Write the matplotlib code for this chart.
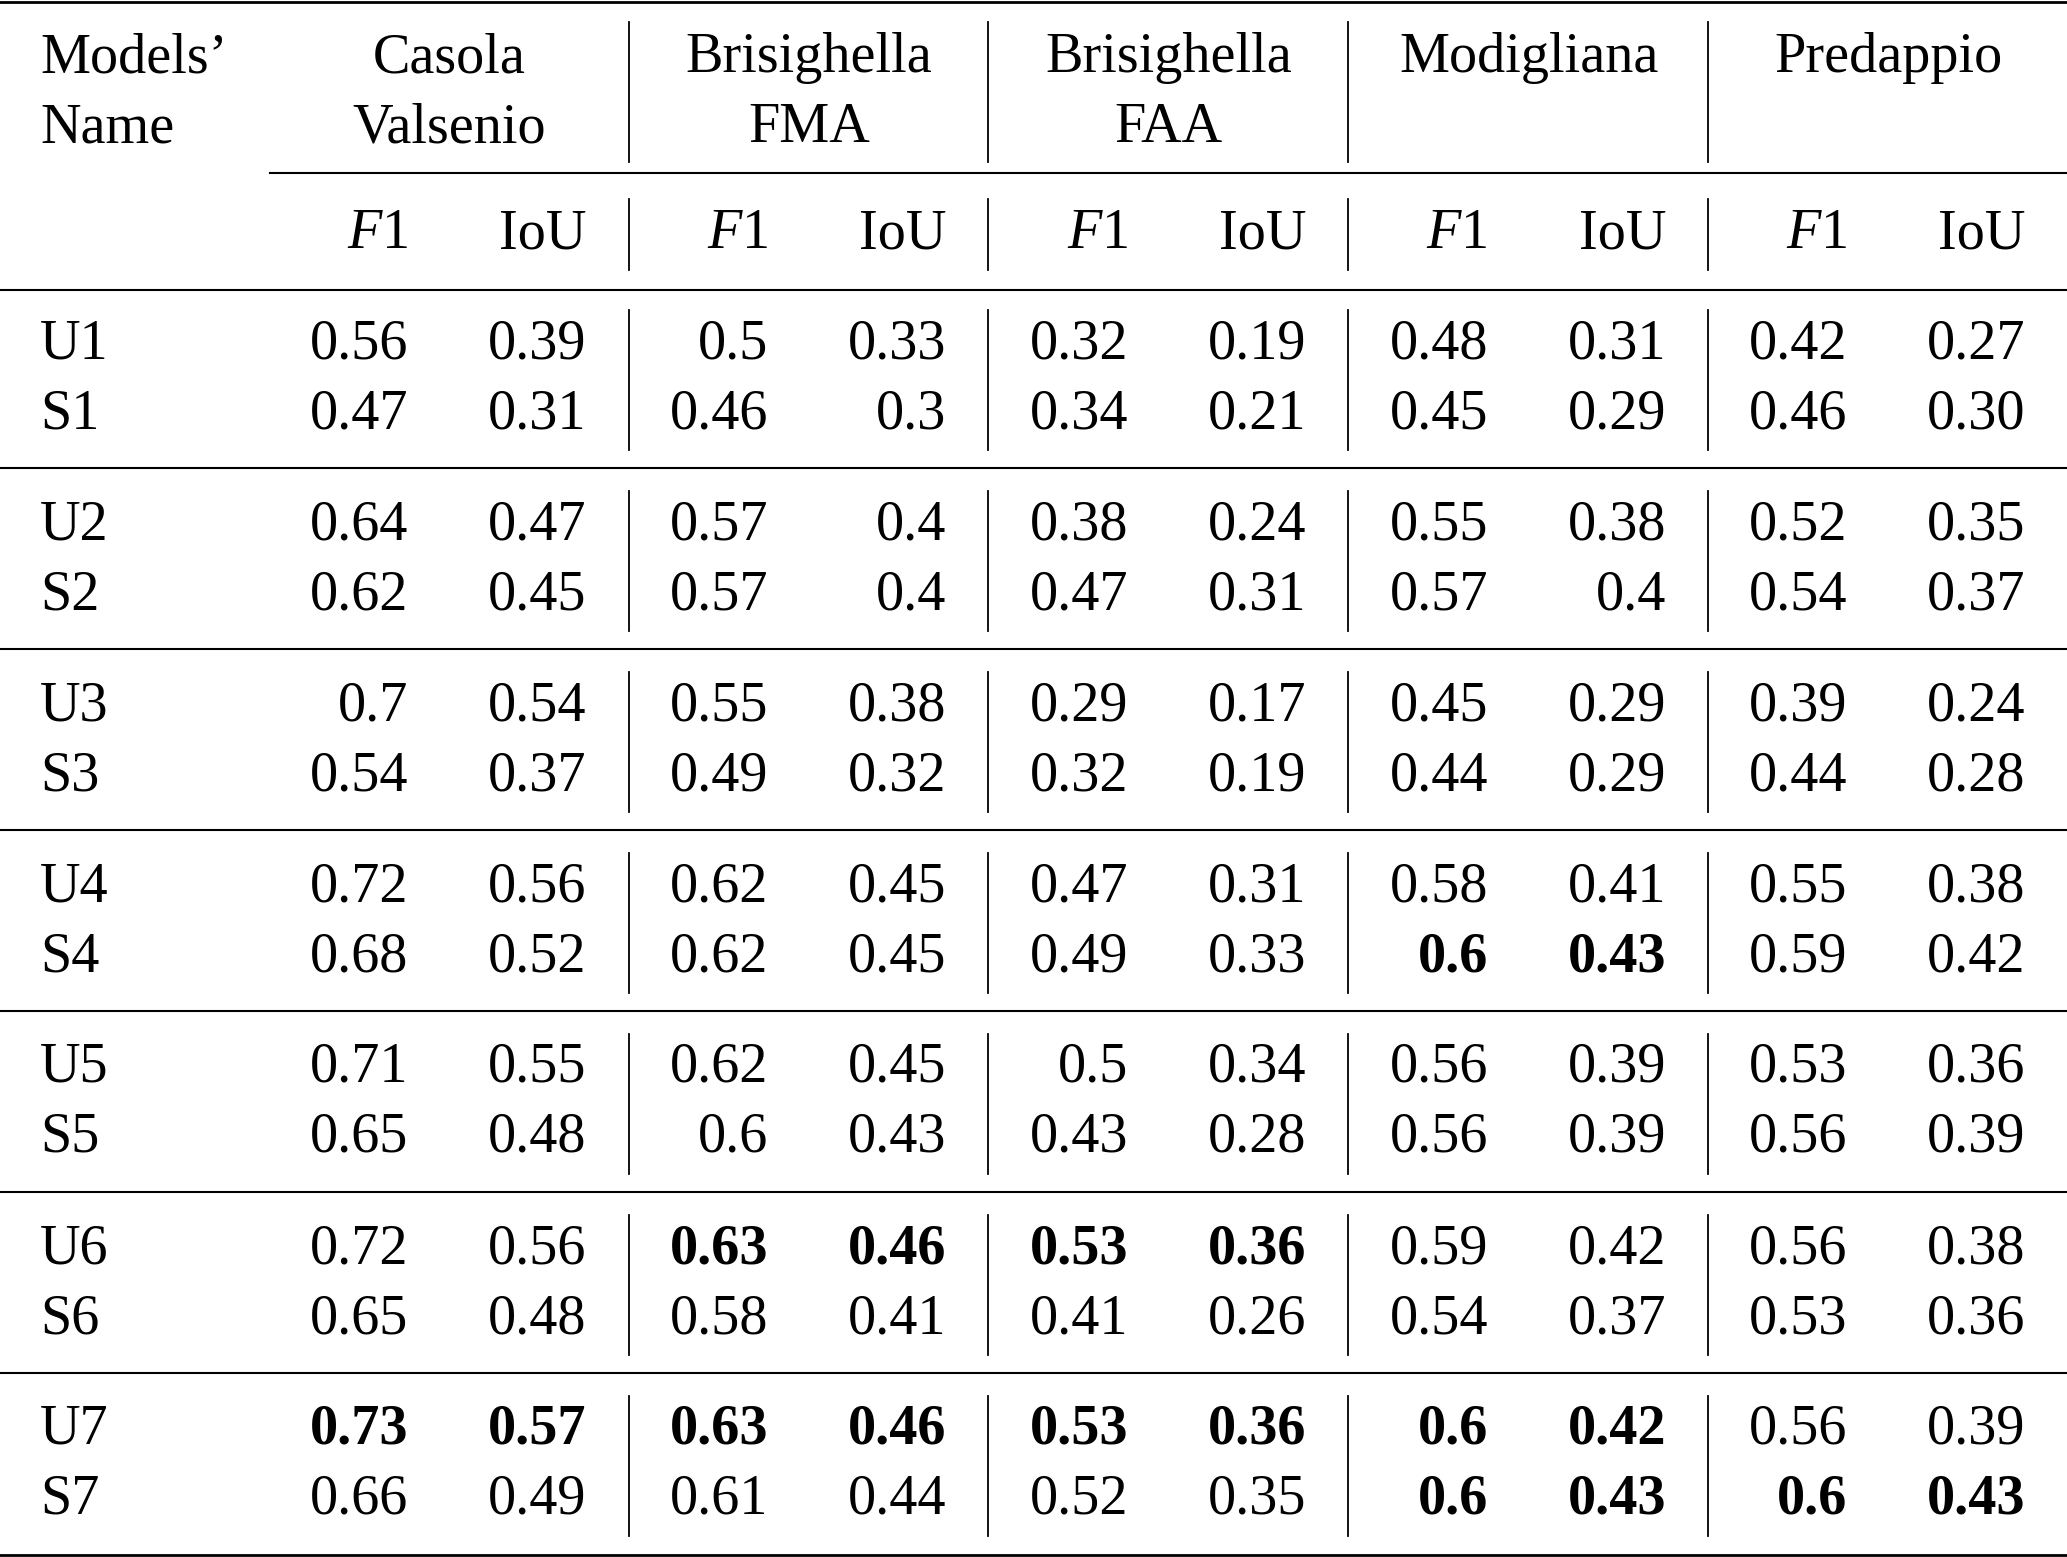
from matplotlib import pyplot as plt
import matplotlib as mpl

########################################################################
#STYLE
mpl.rcParams['font.family'] = ['Liberation Serif', 'DejaVu Serif']
mpl.rcParams['mathtext.fontset'] = 'custom'
mpl.rcParams['mathtext.rm'] = 'Liberation Serif'
mpl.rcParams['mathtext.it'] = 'Liberation Serif:italic'
mpl.rcParams['mathtext.bf'] = 'Liberation Serif:bold'
########################################################################

#Data
models = ['U1', 'S1', 'U2', 'S2', 'U3', 'S3', 'U4', 'S4',
          'U5', 'S5', 'U6', 'S6', 'U7', 'S7']
sites = ['Casola\nValsenio', 'Brisighella\nFMA', 'Brisighella\nFAA', 'Modigliana', 'Predappio']
metrics = ['$F$1', 'IoU']

casola_f1 = ['0.56', '0.47', '0.64', '0.62', '0.7', '0.54', '0.72', '0.68', '0.71', '0.65', '0.72', '0.65', '0.73', '0.66']
casola_iou = ['0.39', '0.31', '0.47', '0.45', '0.54', '0.37', '0.56', '0.52', '0.55', '0.48', '0.56', '0.48', '0.57', '0.49']
fma_f1 = ['0.5', '0.46', '0.57', '0.57', '0.55', '0.49', '0.62', '0.62', '0.62', '0.6', '0.63', '0.58', '0.63', '0.61']
fma_iou = ['0.33', '0.3', '0.4', '0.4', '0.38', '0.32', '0.45', '0.45', '0.45', '0.43', '0.46', '0.41', '0.46', '0.44']
faa_f1 = ['0.32', '0.34', '0.38', '0.47', '0.29', '0.32', '0.47', '0.49', '0.5', '0.43', '0.53', '0.41', '0.53', '0.52']
faa_iou = ['0.19', '0.21', '0.24', '0.31', '0.17', '0.19', '0.31', '0.33', '0.34', '0.28', '0.36', '0.26', '0.36', '0.35']
modi_f1 = ['0.48', '0.45', '0.55', '0.57', '0.45', '0.44', '0.58', '0.6', '0.56', '0.56', '0.59', '0.54', '0.6', '0.6']
modi_iou = ['0.31', '0.29', '0.38', '0.4', '0.29', '0.29', '0.41', '0.43', '0.39', '0.39', '0.42', '0.37', '0.42', '0.43']
pred_f1 = ['0.42', '0.46', '0.52', '0.54', '0.39', '0.44', '0.55', '0.59', '0.53', '0.56', '0.56', '0.53', '0.56', '0.6']
pred_iou = ['0.27', '0.30', '0.35', '0.37', '0.24', '0.28', '0.38', '0.42', '0.36', '0.39', '0.38', '0.36', '0.39', '0.43']

columns = [casola_f1, casola_iou, fma_f1, fma_iou, faa_f1, faa_iou,
           modi_f1, modi_iou, pred_f1, pred_iou]

# (row, column) of bold cells
bold_cells = [(7, 6), (7, 7),
              (10, 2), (10, 3), (10, 4), (10, 5),
              (12, 0), (12, 1), (12, 2), (12, 3), (12, 4), (12, 5), (12, 6), (12, 7),
              (13, 6), (13, 7), (13, 8), (13, 9)]

########################################################################
#Layout (pixels)
W, H = 2067, 1557
fs = 40.5
label_x = 40
col_right0 = 408.5       # right edge of first F1 column
col_pair = 178           # F1 -> IoU distance
site_w = 359.8           # width of one site block
bar_x0 = 628.6
cmid_x0 = 270
row_base0 = 358
row_step = 70
group_step = 181

f = plt.figure(figsize=(W / 100, H / 100), dpi=100)
ax = f.add_axes([0, 0, 1, 1])
ax.set_xlim(0, W)
ax.set_ylim(H, 0)
ax.axis('off')

# rules
ax.plot([0, W], [2, 2], c='k', lw=2.0)
ax.plot([cmid_x0, W], [173.3, 173.3], c='k', lw=1.5)
ax.plot([0, W], [290, 290], c='k', lw=1.5)
ax.plot([0, W], [1555, 1555], c='k', lw=2.0)
for g in range(1, len(models) // 2):
    y = 468 + group_step * (g - 1)
    ax.plot([0, W], [y, y], c='k', lw=1.5)

# vertical bars
for s in range(len(sites) - 1):
    x = bar_x0 + site_w * s
    ax.plot([x, x], [22, 162], c='k', lw=1.3)
    ax.plot([x, x], [199, 270], c='k', lw=1.3)
    for g in range(len(models) // 2):
        ax.plot([x, x], [310 + group_step * g, 450 + group_step * g], c='k', lw=1.3)

# header
ax.text(label_x, 72, 'Models\u2019', fontsize=fs, ha='left', va='baseline')
ax.text(label_x, 142, 'Name', fontsize=fs, ha='left', va='baseline')
for s, name in enumerate(sites):
    xc = (cmid_x0 + bar_x0) / 2 + site_w * s
    for k, line in enumerate(name.split('\n')):
        ax.text(xc, 72 + 70 * k, line, fontsize=fs, ha='center', va='baseline')
    for m, lab in enumerate(metrics):
        ax.text(col_right0 + site_w * s + col_pair * m, 248, lab, fontsize=fs,
                ha='right', va='baseline')

# body
for r, name in enumerate(models):
    yb = row_base0 + group_step * (r // 2) + row_step * (r % 2)
    ax.text(label_x, yb, name, fontsize=fs, ha='left', va='baseline')
    for c, col in enumerate(columns):
        x = col_right0 + site_w * (c // 2) + col_pair * (c % 2)
        w = 'bold' if (r, c) in bold_cells else 'normal'
        ax.text(x, yb, col[r], fontsize=fs, ha='right', va='baseline', fontweight=w)

plt.savefig('out.png', dpi=100)
